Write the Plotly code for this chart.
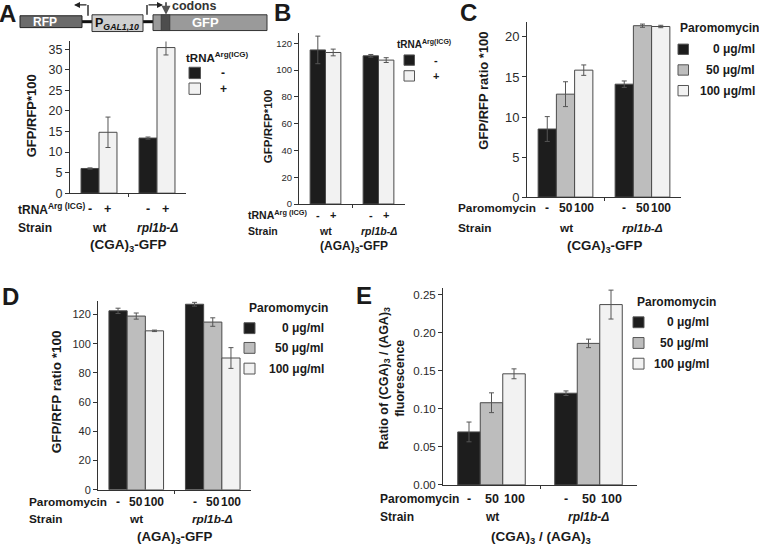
import plotly.graph_objects as go

W, H = 759, 553
FONT = "Liberation Sans"

def X(p):
    return p / W

def Y(p):
    return 1 - p / H

# ---------------- colours ----------------
C_BLACK = "#1d1d1d"
C_GRAY = "#bdbdbd"
C_WHITE = "#f2f2f2"
EDGE = "#4a4a4a"
ERR = "#555555"
AX = "#333333"

# ---------------- data ----------------
groups = [0, 1]
strains = ["wt", "<i>rpl1b-Δ</i>"]
trna_marks = ["-", "+"]
paro_marks = ["-", "50", "100"]
paro_legend = ["0 μg/ml", "50 μg/ml", "100 μg/ml"]
trna_legend = ["-", "+"]

# Panel A: (CGA)3-GFP, GFP/RFP*100, tRNA -/+
A_minus = [6.0, 13.4]
A_minus_err = [0.15, 0.25]
A_plus = [14.8, 35.4]
A_plus_err = [3.7, 1.8]

# Panel B: (AGA)3-GFP
B_minus = [115.1, 110.7]
B_minus_err = [10.3, 1.0]
B_plus = [113.2, 107.5]
B_plus_err = [2.5, 1.8]

# Panel C: (CGA)3-GFP with paromomycin 0/50/100
C_0 = [8.5, 14.1]
C_0_err = [1.55, 0.4]
C_50 = [12.85, 21.4]
C_50_err = [1.55, 0.2]
C_100 = [15.85, 21.3]
C_100_err = [0.65, 0.15]

# Panel D: (AGA)3-GFP with paromomycin
D_0 = [122.5, 127.0]
D_0_err = [1.8, 1.3]
D_50 = [118.9, 114.8]
D_50_err = [2.1, 2.9]
D_100 = [108.8, 90.2]
D_100_err = [0.5, 7.1]

# Panel E: ratio (CGA)3/(AGA)3
E_0 = [0.0696, 0.1205]
E_0_err = [0.013, 0.003]
E_50 = [0.108, 0.186]
E_50_err = [0.013, 0.0056]
E_100 = [0.146, 0.237]
E_100_err = [0.0065, 0.019]

fig = go.Figure()

# panel geometry (pixels): left, right, top, bottom, y-range max, bar width, tick step, tick font
panels = {
    "A": dict(ax="", l=70, r=186, t=42, b=196, ymax=36.9, w=0.31, dtick=5, tfs=12.5, fmt=None),
    "B": dict(ax="2", l=299, r=405, t=33, b=207, ymax=128.1, w=0.29, dtick=20, tfs=9.5, fmt=None),
    "C": dict(ax="3", l=527, r=681, t=22, b=200, ymax=21.9, w=0.237, dtick=5, tfs=13, fmt=None),
    "D": dict(ax="4", l=98, r=251, t=305, b=497, ymax=129.5, w=0.238, dtick=20, tfs=11, fmt=None),
    "E": dict(ax="5", l=443, r=637, t=292, b=492, ymax=0.2591, w=0.232, dtick=0.05, tfs=11.5, fmt=".2f"),
}

series = {
    "A": [(A_minus, A_minus_err, C_BLACK), (A_plus, A_plus_err, C_WHITE)],
    "B": [(B_minus, B_minus_err, C_BLACK), (B_plus, B_plus_err, C_WHITE)],
    "C": [(C_0, C_0_err, C_BLACK), (C_50, C_50_err, C_GRAY), (C_100, C_100_err, C_WHITE)],
    "D": [(D_0, D_0_err, C_BLACK), (D_50, D_50_err, C_GRAY), (D_100, D_100_err, C_WHITE)],
    "E": [(E_0, E_0_err, C_BLACK), (E_50, E_50_err, C_GRAY), (E_100, E_100_err, C_WHITE)],
}

layout_axes = {}
for key, p in panels.items():
    n = len(series[key])
    for i, (vals, errs, col) in enumerate(series[key]):
        off = (i - n / 2) * p["w"]
        fig.add_trace(go.Bar(
            x=groups, y=vals, width=p["w"], offset=off,
            marker=dict(color=col, line=dict(color=EDGE, width=1)),
            error_y=dict(type="data", array=errs, color=ERR, thickness=1, width=2.5),
            xaxis="x" + p["ax"], yaxis="y" + p["ax"], showlegend=False,
            hoverinfo="y",
        ))
    layout_axes["xaxis" + p["ax"]] = dict(
        domain=[X(p["l"]), X(p["r"])], anchor="y" + p["ax"], range=[-0.5, 1.5],
        showline=True, linecolor=AX, linewidth=1, ticks="outside", tickvals=[0.5],
        ticklen=3, tickcolor=AX, showticklabels=False, showgrid=False, zeroline=False,
        fixedrange=True,
    )
    layout_axes["yaxis" + p["ax"]] = dict(
        domain=[Y(p["b"]), Y(p["t"])], anchor="x" + p["ax"], range=[0, p["ymax"]],
        showline=True, linecolor=AX, linewidth=1, ticks="outside", ticklen=4,
        tickcolor=AX, dtick=p["dtick"], tick0=0, showgrid=False, zeroline=False,
        tickfont=dict(family=FONT, size=p["tfs"], color="#2a2a2a"),
        tickformat=p["fmt"], fixedrange=True,
    )

annotations = []
shapes = []

def txt(x, y, text, size, xanchor="center", bold=True, color="#1a1a1a", xref="paper",
        angle=0, yanchor="middle"):
    annotations.append(dict(
        x=x if xref != "paper" else X(x), y=Y(y), xref=xref, yref="paper",
        text=("<b>%s</b>" % text) if bold else text, showarrow=False,
        xanchor=xanchor, yanchor=yanchor, textangle=angle,
        font=dict(family=FONT, size=size, color=color),
    ))

def rect(x0, y0, x1, y1, fill, line=EDGE, lw=1):
    shapes.append(dict(type="rect", xref="paper", yref="paper",
                       x0=X(x0), x1=X(x1), y0=Y(y1), y1=Y(y0),
                       fillcolor=fill, line=dict(color=line, width=lw)))

def line(x0, y0, x1, y1, color="#111111", lw=1.5):
    shapes.append(dict(type="line", xref="paper", yref="paper",
                       x0=X(x0), x1=X(x1), y0=Y(y0), y1=Y(y1),
                       line=dict(color=color, width=lw)))

def arrow(xt, yt, xs, ys, color="#222222", width=1.2):
    annotations.append(dict(
        x=X(xt), y=Y(yt), xref="paper", yref="paper", ax=xs - xt, ay=ys - yt,
        axref="pixel", ayref="pixel", text="", showarrow=True, arrowhead=2,
        arrowsize=1, arrowwidth=width, arrowcolor=color,
    ))

# ---------------- panel letters ----------------
txt(7, 14, "A", 24)
txt(282, 13, "B", 24)
txt(468, 13, "C", 24)
txt(10, 301, "D", 24)
txt(364, 300, "E", 24)

# ---------------- construct diagram ----------------
line(82, 22, 92, 22, lw=3)
line(143, 22, 153, 22, lw=3)
rect(20, 16, 82, 28, "#6b6b6b", line="#222222")
rect(92, 15, 143, 32, "#cfcfcf", line="#333333")
rect(153, 15, 267, 31, "#9a9a9a", line="#333333")
rect(161, 15, 170, 31, "#4d4d4d", line="#333333", lw=0.5)
txt(45, 22, "RFP", 12, color="white")
txt(205, 23, "GFP", 13, color="white")
txt(117, 24, "P<sub><i>GAL1,10</i></sub>", 12.5, color="#111111")
line(88, 16, 88, 5, lw=1.3)
arrow(74, 5, 88, 5)
line(147, 15, 147, 5, lw=1.3)
arrow(163, 5, 147, 5)
arrow(166, 15, 166, 1, color="#555555", width=1.8)
txt(170, 6, "codons", 12.5, color="#333333", xanchor="left")

# ---------------- y titles ----------------
txt(31, 118, "GFP/RFP*100", 13, angle=-90)
txt(268, 128, "GFP/RFP*100", 11.5, angle=-90)
txt(484, 92, "GFP/RFP ratio *100", 13, angle=-90)
txt(56, 398, "GFP/RFP ratio *100", 13.5, angle=-90)
txt(392, 384, "Ratio of (CGA)<sub>3</sub> / (AGA)<sub>3</sub><br>fluorescence", 12.5, angle=-90)

# ---------------- legends ----------------
def legend(x_title, y_title, title, tsize, sq_x, sq_ys, sq_size, labels, lab_x, lab_anchor, lsize, cols):
    txt(x_title, y_title, title, tsize, xanchor="left")
    for yy, lab, col in zip(sq_ys, labels, cols):
        rect(sq_x, yy - sq_size / 2, sq_x + sq_size, yy + sq_size / 2, col, line="#555555")
        txt(lab_x, yy, lab, lsize, xanchor=lab_anchor)

legend(184, 58, "tRNA<sup>Arg(ICG)</sup>", 11.5, 189, [74, 90], 11.5, trna_legend, 223, "center", 12,
       [C_BLACK, C_WHITE])
legend(395, 45, "tRNA<sup>Arg(ICG)</sup>", 10, 404, [61, 77], 10.5, trna_legend, 436, "center", 11,
       [C_BLACK, C_WHITE])
legend(678, 28, "Paromomycin", 12, 678, [50, 71, 92], 10.5, paro_legend, 757, "right", 12,
       [C_BLACK, C_GRAY, C_WHITE])
legend(247, 313, "Paromomycin", 12, 244, [333, 353, 374], 11, paro_legend, 326, "right", 12,
       [C_BLACK, C_GRAY, C_WHITE])
legend(635, 306, "Paromomycin", 12, 633, [327, 348, 369], 11, paro_legend, 711, "right", 12,
       [C_BLACK, C_GRAY, C_WHITE])

# ---------------- category labels below axes ----------------
def below(key, row1_label, marks, y1, y2, y3, xlab, group_title, size, title_x, msize):
    p = panels[key]
    n = len(series[key])
    xref = "x" + p["ax"]
    txt(xlab, y1, row1_label, size, xanchor="left")
    txt(xlab, y2, "Strain", size, xanchor="left")
    for g in groups:
        for i, m in enumerate(marks):
            cx = g + (i - n / 2 + 0.5) * p["w"]
            txt(cx, y1, m, msize, xref=xref)
        txt(g, y2, strains[g], size, xref=xref)
    txt(title_x, y3, group_title, size + 1.5)

below("A", "tRNA<sup>Arg (ICG)</sup>", trna_marks, 212, 231, 249, 16, "(CGA)<sub>3</sub>-GFP", 12, 128, 12.5)
below("B", "tRNA<sup>Arg (ICG)</sup>", trna_marks, 218, 234, 251, 246, "(AGA)<sub>3</sub>-GFP", 10.5, 354, 11)
below("C", "Paromomycin", paro_marks, 211, 231, 250, 456, "(CGA)<sub>3</sub>-GFP", 11.8, 604, 12)
below("D", "Paromomycin", paro_marks, 509, 527, 545, 27, "(AGA)<sub>3</sub>-GFP", 11.8, 174, 12)
below("E", "Paromomycin", paro_marks, 506, 525, 545, 378, "(CGA)<sub>3</sub> / (AGA)<sub>3</sub>", 12, 541, 12.5)

fig.update_layout(
    width=W, height=H, margin=dict(l=0, r=0, t=0, b=0),
    paper_bgcolor="white", plot_bgcolor="rgba(0,0,0,0)",
    barmode="overlay", showlegend=False,
    font=dict(family=FONT, color="#222222"),
    annotations=annotations, shapes=shapes,
    **layout_axes,
)

fig.write_html(
    "out.html",
    config={"displayModeBar": False},
    post_script="document.body.style.margin='0';document.body.style.overflow='hidden';",
)
